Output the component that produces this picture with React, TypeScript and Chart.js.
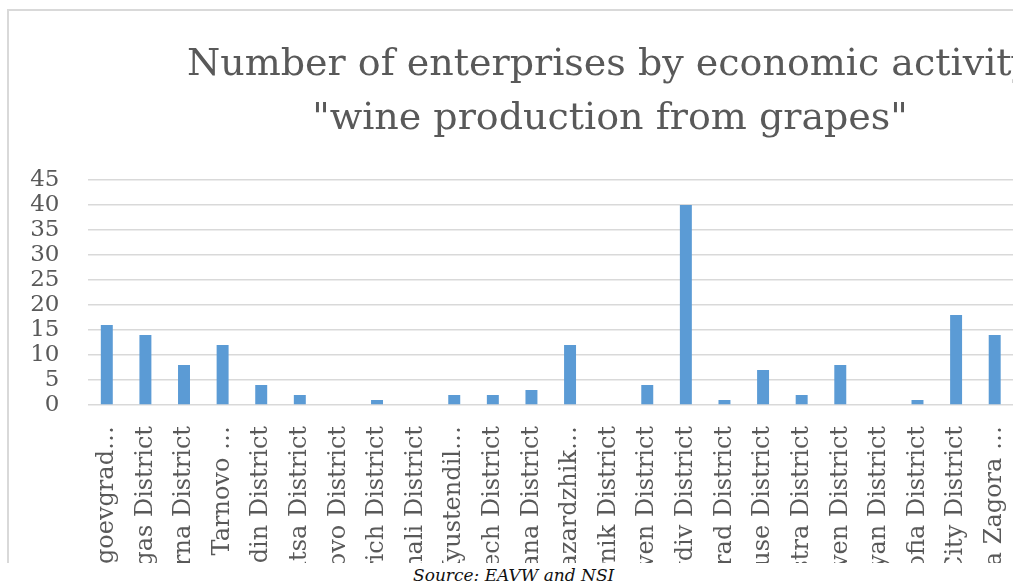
import React, { useEffect, useRef } from "react";
import { Chart, registerables } from "chart.js";

Chart.register(...registerables);

const titleLines = ["Number of enterprises by economic activity", "\"wine production from grapes\""];

const districts = [
  "Blagoevgrad District", "Burgas District", "Varna District", "Veliko Tarnovo District",
  "Vidin District", "Vratsa District", "Gabrovo District", "Dobrich District",
  "Kardzhali District", "Kyustendil District", "Lovech District", "Montana District",
  "Pazardzhik District", "Pernik District", "Pleven District", "Plovdiv District",
  "Razgrad District", "Ruse District", "Silistra District", "Sliven District",
  "Smolyan District", "Sofia District", "Sofia City District", "Stara Zagora District",
];

// Axis labels as shown (long names are truncated on the axis)
const tickLabels = [
  "Blagoevgrad…", "Burgas District", "Varna District", "Veliko Tarnovo …",
  "Vidin District", "Vratsa District", "Gabrovo District", "Dobrich District",
  "Kardzhali District", "Kyustendil…", "Lovech District", "Montana District",
  "Pazardzhik…", "Pernik District", "Pleven District", "Plovdiv District",
  "Razgrad District", "Ruse District", "Silistra District", "Sliven District",
  "Smolyan District", "Sofia District", "Sofia City District", "Stara Zagora …",
];

const enterprises = [16, 14, 8, 12, 4, 2, 0, 1, 0, 2, 2, 3, 12, 0, 4, 40, 1, 7, 2, 8, 0, 1, 18, 14];

const yMin = 0;
const yMax = 45;
const yStep = 5;

const sourceNote = "Source: EAVW and NSI";

const TEXT = "#595959";
const FONT = "'DejaVu Serif', serif";

export default function App() {
  const ref = useRef<HTMLCanvasElement>(null);

  useEffect(() => {
    if (!ref.current) return;
    const chart = new Chart(ref.current, {
      type: "bar",
      data: {
        labels: districts,
        datasets: [
          {
            label: "Enterprises",
            data: enterprises,
            backgroundColor: "#5b9bd5",
            borderWidth: 0,
            barPercentage: 0.31,
            categoryPercentage: 1,
          },
        ],
      },
      options: {
        responsive: false,
        animation: false,
        devicePixelRatio: 1,
        layout: { padding: 0 },
        plugins: {
          legend: { display: false },
          tooltip: { enabled: false },
          title: {
            display: true,
            text: titleLines,
            color: TEXT,
            font: { family: FONT, size: 38, weight: "normal", lineHeight: 1.4 },
            padding: { top: 29, bottom: 34.6 },
          },
        },
        scales: {
          x: {
            grid: { display: false },
            border: { display: false },
            ticks: {
              autoSkip: false,
              minRotation: 90,
              maxRotation: 90,
              padding: 13,
              color: TEXT,
              font: { family: FONT, size: 24 },
              callback: (_v: any, i: number) => tickLabels[i],
            },
            afterFit: (s: any) => {
              s.height = 245;
            },
          },
          y: {
            min: yMin,
            max: yMax,
            ticks: {
              stepSize: yStep,
              autoSkip: false,
              padding: 28,
              color: TEXT,
              font: { family: FONT, size: 23 },
            },
            grid: { color: "#d9d9d9", lineWidth: 1.5, drawTicks: false },
            border: { display: false },
            afterFit: (s: any) => {
              s.width = 79.5;
            },
          },
          spacer: {
            type: "linear",
            position: "right",
            display: true,
            grid: { display: false },
            border: { display: false },
            ticks: { display: false },
            afterFit: (s: any) => {
              s.width = 198;
            },
          },
        },
      } as any,
    });
    return () => chart.destroy();
  }, []);

  return (
    <div
      style={{
        position: "absolute",
        left: 0,
        top: 0,
        width: 1013,
        height: 584,
        overflow: "hidden",
        background: "#ffffff",
      }}
    >
      <div
        style={{
          position: "absolute",
          left: 0,
          top: 0,
          width: 1013,
          height: 563,
          overflow: "hidden",
        }}
      >
        <div
          style={{
            position: "absolute",
            left: 7,
            top: 9,
            width: 1300,
            height: 700,
            borderLeft: "2px solid #d9d9d9",
            borderTop: "2px solid #d9d9d9",
          }}
        />
        <canvas
          ref={ref}
          width={1204}
          height={640}
          style={{ position: "absolute", left: 8, top: 10, width: 1204, height: 640 }}
        />
      </div>
      <div
        style={{
          position: "absolute",
          left: 413,
          top: 565,
          fontFamily: FONT,
          fontStyle: "italic",
          fontSize: 17,
          lineHeight: "20px",
          color: "#111111",
          whiteSpace: "nowrap",
        }}
      >
        {sourceNote}
      </div>
    </div>
  );
}
